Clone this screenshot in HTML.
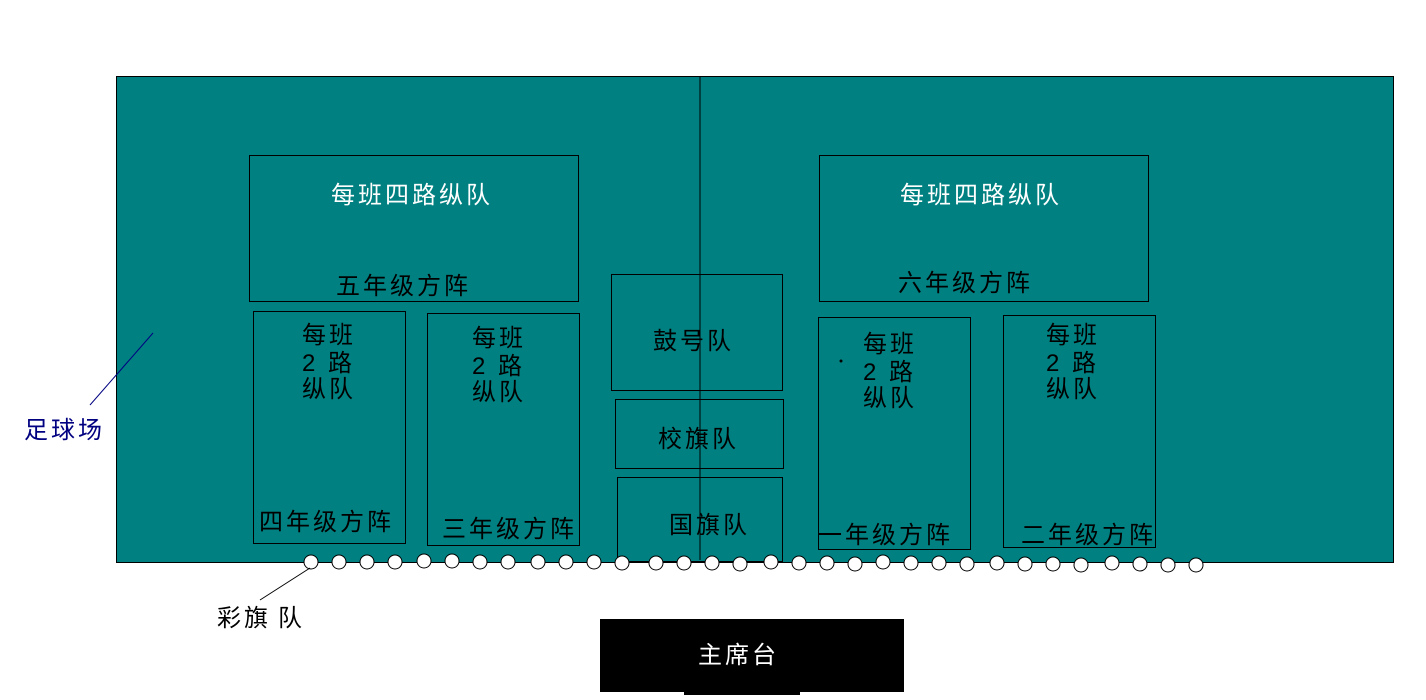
<!DOCTYPE html>
<html><head><meta charset="utf-8"><style>
body{margin:0;background:#fff}
svg text{font-family:"Liberation Sans","Noto Sans CJK SC",sans-serif;font-size:24px;letter-spacing:3px}
</style></head><body>
<svg width="1426" height="695" viewBox="0 0 1426 695" xmlns="http://www.w3.org/2000/svg">
<rect x="116.5" y="76.5" width="1277" height="486" fill="#008080" stroke="#000" stroke-width="1"/>
<line x1="700" y1="76" x2="700" y2="560" stroke="#000"/>
<g fill="none" stroke="#000" stroke-width="1">
<rect x="249.5" y="155.5" width="329" height="146"/>
<rect x="819.5" y="155.5" width="329" height="146"/>
<rect x="253.5" y="311.5" width="152" height="232"/>
<rect x="427.5" y="313.5" width="152" height="232"/>
<rect x="611.5" y="274.5" width="171" height="116"/>
<rect x="615.5" y="399.5" width="168" height="69"/>
<rect x="617.5" y="477.5" width="165" height="84"/>
<rect x="818.5" y="317.5" width="152" height="232"/>
<rect x="1003.5" y="315.5" width="152" height="232"/>
</g>
<g fill="#fff">
<text x="331" y="203">每班四路纵队</text>
<text x="900" y="203">每班四路纵队</text>
</g>
<g fill="#000">
<text x="336" y="294">五年级方阵</text>
<text x="898" y="291">六年级方阵</text>
<text x="302" y="343">每班</text><text x="302" y="371">2 路</text><text x="302" y="397">纵队</text>
<text x="472" y="346">每班</text><text x="472" y="374">2 路</text><text x="472" y="400">纵队</text>
<text x="863" y="352">每班</text><text x="863" y="380">2 路</text><text x="863" y="406">纵队</text>
<text x="1046" y="343">每班</text><text x="1046" y="371">2 路</text><text x="1046" y="397">纵队</text>
<text x="653" y="349">鼓号队</text>
<text x="658" y="447">校旗队</text>
<text x="669" y="533">国旗队</text>
<text x="259" y="530">四年级方阵</text>
<text x="442" y="537">三年级方阵</text>
<text x="818" y="543">一年级方阵</text>
<text x="1021" y="543">二年级方阵</text>
<circle cx="841" cy="361" r="1.5"/>
</g>
<g fill="#fff" stroke="#000" stroke-width="1">
<circle cx="311" cy="562" r="7"/><circle cx="339" cy="562" r="7"/><circle cx="367" cy="562" r="7"/><circle cx="395" cy="562" r="7"/>
<circle cx="424" cy="561" r="7"/><circle cx="452" cy="561" r="7"/><circle cx="480" cy="562" r="7"/><circle cx="508" cy="562" r="7"/>
<circle cx="538" cy="562" r="7"/><circle cx="566" cy="562" r="7"/><circle cx="594" cy="562" r="7"/><circle cx="622" cy="563" r="7"/>
<circle cx="656" cy="563" r="7"/><circle cx="684" cy="563" r="7"/><circle cx="712" cy="563" r="7"/><circle cx="740" cy="564" r="7"/>
<circle cx="771" cy="562" r="7"/><circle cx="799" cy="563" r="7"/><circle cx="827" cy="563" r="7"/><circle cx="855" cy="564" r="7"/>
<circle cx="883" cy="562" r="7"/><circle cx="911" cy="563" r="7"/><circle cx="939" cy="563" r="7"/><circle cx="967" cy="564" r="7"/>
<circle cx="997" cy="563" r="7"/><circle cx="1025" cy="564" r="7"/><circle cx="1053" cy="564" r="7"/><circle cx="1081" cy="565" r="7"/>
<circle cx="1112" cy="563" r="7"/><circle cx="1140" cy="564" r="7"/><circle cx="1168" cy="565" r="7"/><circle cx="1196" cy="565" r="7"/>
</g>
<line x1="310" y1="568" x2="260" y2="600" stroke="#000"/>
<text x="217" y="626" fill="#000">彩旗</text><text x="278" y="626" fill="#000">队</text>
<line x1="153" y1="333" x2="90" y2="405" stroke="#000080"/>
<text x="24" y="438" fill="#000080">足球场</text>
<rect x="600" y="619" width="304" height="73" fill="#000"/>
<rect x="684" y="690" width="116" height="5" fill="#000"/>
<text x="698" y="663" fill="#fff">主席台</text>
</svg>
</body></html>
